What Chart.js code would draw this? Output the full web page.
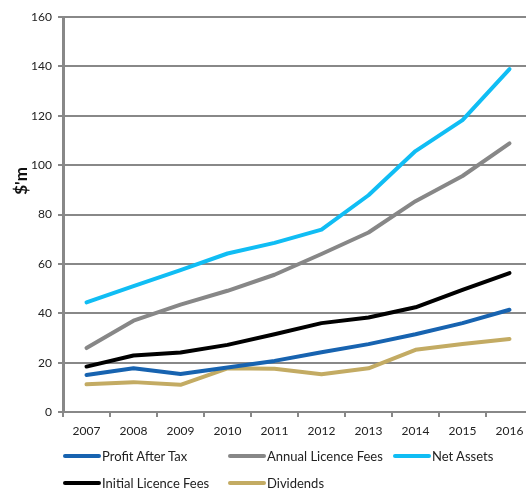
<!DOCTYPE html>
<html><head><meta charset="utf-8">
<script src="https://cdn.jsdelivr.net/npm/chart.js@4"></script>
<style>
html,body{margin:0;padding:0;background:#fff;overflow:hidden;width:526px;height:488px;}
#wrap{position:absolute;left:0;top:0;width:533px;height:440px;}
#legend{position:absolute;left:0;top:0;width:526px;height:488px;pointer-events:none;font-family:Lato,"Open Sans",sans-serif;font-size:13px;color:#222;}
.li{position:absolute;display:flex;align-items:center;white-space:nowrap;}
.li span.s{display:inline-block;width:38px;height:4px;border-radius:2px;margin-right:1px;}
</style></head>
<body>
<div id="wrap"><canvas id="c" width="533" height="440"></canvas></div>
<div id="legend"></div>
<script>
const years = ['2007','2008','2009','2010','2011','2012','2013','2014','2015','2016'];
const profitAfterTax = [15.0, 17.7, 15.4, 18.0, 20.7, 24.2, 27.5, 31.5, 36.0, 41.4];
const annualLicenceFees = [25.9, 37.0, 43.5, 49.1, 55.6, 64.0, 72.7, 85.4, 95.6, 108.8];
const netAssets = [44.4, 51.0, 57.5, 64.2, 68.5, 73.9, 87.8, 105.7, 118.2, 138.9];
const initialLicenceFees = [18.4, 22.9, 24.1, 27.2, 31.5, 36.0, 38.3, 42.4, 49.5, 56.3];
const dividends = [11.2, 12.1, 11.0, 17.7, 17.5, 15.3, 17.7, 25.2, 27.5, 29.6];
const yTicks = [0, 20, 40, 60, 80, 100, 120, 140, 160];
const yTitle = "$'m";
const seriesNames = ['Profit After Tax','Annual Licence Fees','Net Assets','Initial Licence Fees','Dividends'];
const seriesColors = ['#1763B0','#878787','#10BDF4','#000000','#C3AB63'];
const seriesValues = [profitAfterTax, annualLicenceFees, netAssets, initialLicenceFees, dividends];

const datasets = seriesNames.map((n,i)=>({
  label:n, data:seriesValues[i], borderColor:seriesColors[i], backgroundColor:seriesColors[i],
  borderWidth:4, pointRadius:0, tension:0, fill:false, borderCapStyle:'round', borderJoinStyle:'round'
}));
const font = {family:'Lato, "Open Sans", sans-serif', size:12};
const yTitlePlugin = {
  id:'yTitle',
  afterDraw(c){
    const ctx = c.ctx, a = c.chartArea;
    ctx.save();
    ctx.translate(22, a.top + (a.bottom - a.top) * 0.415);
    ctx.rotate(-Math.PI/2);
    ctx.font = 'bold 17px Lato, "Open Sans", sans-serif';
    ctx.fillStyle = '#111';
    ctx.textAlign = 'center';
    ctx.textBaseline = 'middle';
    ctx.fillText(yTitle, 0, 0);
    ctx.restore();
  }
};
const chart = new Chart(document.getElementById('c'), {
  type:'line',
  data:{labels:years, datasets},
  plugins:[yTitlePlugin],
  options:{
    responsive:false, animation:false,
    layout:{padding:{top:17,right:0,bottom:0,left:0}},
    plugins:{legend:{display:false}, tooltip:{enabled:false}},
    scales:{
      x:{
        offset:true,
        grid:{display:true, drawOnChartArea:false, drawTicks:true, tickLength:5, color:'#888', lineWidth:2, offset:true},
        border:{display:false},
        ticks:{color:'#222', font, padding:7, maxRotation:0, autoSkip:false},
        afterFit(s){ s.height = 28; }
      },
      y:{
        min:0, max:160,
        afterBuildTicks(s){ s.ticks = yTicks.map(v=>({value:v})); },
        grid:{color:'#888', lineWidth:2, tickLength:5, drawTicks:true},
        border:{display:true, color:'#888', width:3},
        ticks:{color:'#222', font, padding:6},
        title:{display:false},
        afterFit(s){ s.width = 63; }
      }
    }
  }
});
const pos = [[63,456],[228,456],[393,456],[63,483],[228,483]];
const lg = document.getElementById('legend');
chart.data.datasets.forEach((d,i)=>{
  const el = document.createElement('div');
  el.className='li';
  el.style.left = pos[i][0]+'px';
  el.style.top = (pos[i][1]-9)+'px';
  el.style.height='18px';
  el.innerHTML = '<span class="s" style="background:'+d.borderColor+'"></span>'+d.label;
  lg.appendChild(el);
});
</script>
</body></html>
